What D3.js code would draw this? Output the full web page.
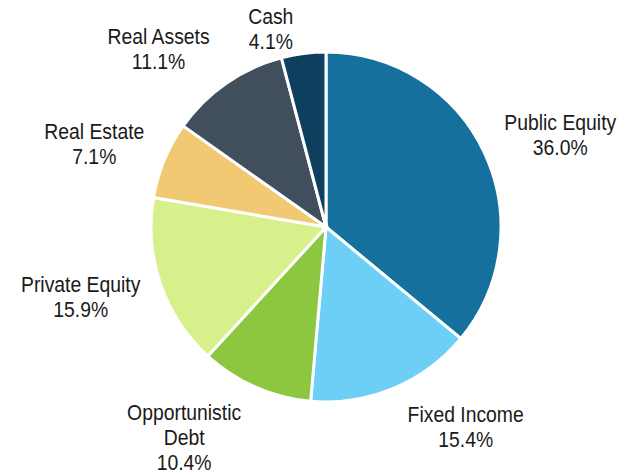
<!DOCTYPE html>
<html><head><meta charset="utf-8">
<script src="https://cdn.jsdelivr.net/npm/d3@7"></script>
<style>body{margin:0;background:#fff}svg{display:block}text{font-family:"Liberation Sans Narrow","Arial Narrow","Liberation Sans",Arial,sans-serif;font-size:22px;fill:#1a1a1a}</style>
</head><body>
<svg id="c" width="625" height="476"></svg>
<script>
const categories = ["Public Equity","Fixed Income","Opportunistic Debt","Private Equity","Real Estate","Real Assets","Cash"];
const labelLines = [["Public Equity"],["Fixed Income"],["Opportunistic","Debt"],["Private Equity"],["Real Estate"],["Real Assets"],["Cash"]];
const values = [36.0,15.4,10.4,15.9,7.1,11.1,4.1];
const colors = ["#15709E","#6DCFF6","#8DC63F","#D8F08B","#F1C972","#414E5C","#0E3F5E"];

const W=625,H=476,cx=326,cy=227,r=175,R=192,lh=25,sx=0.88;
const svg=d3.select("#c");
const g=svg.append("g").attr("transform",`translate(${cx},${cy})`);
const pie=d3.pie().sort(null).value(d=>d)(values);
const arc=d3.arc().innerRadius(0).outerRadius(r);
g.selectAll("path").data(pie).join("path")
  .attr("d",arc).attr("fill",(d,i)=>colors[i])
  .attr("stroke","#fff").attr("stroke-width",3).attr("stroke-linejoin","miter");

pie.forEach((d,i)=>{
  const a=(d.startAngle+d.endAngle)/2;
  const dx=Math.sin(a), dy=-Math.cos(a);
  const lines=labelLines[i].concat([values[i].toFixed(1)+"%"]);
  const t=svg.append("text").attr("text-anchor","middle");
  lines.forEach((s,k)=>t.append("tspan").attr("x",0).attr("y",k*lh).text(s));
  const bb=t.node().getBBox();
  const w=bb.width*sx,h=lines.length*lh;
  const px=cx+R*dx, py=cy+R*dy;
  const pad = 2 + 6*Math.abs(dy);
  let bxc = dx>=0 ? px+pad+w/2 : px-pad-w/2;
  let byc = py+dy*h/2;
  if(byc-h/2<4) byc=4+h/2;
  if(byc+h/2>H) byc=H-h/2;
  const y0=byc-h/2+20;
  t.attr("transform",`translate(${bxc},0) scale(${sx},1)`);
  t.selectAll("tspan").attr("x",0).attr("y",(s,k)=>y0+k*lh);
});
</script>
</body></html>
